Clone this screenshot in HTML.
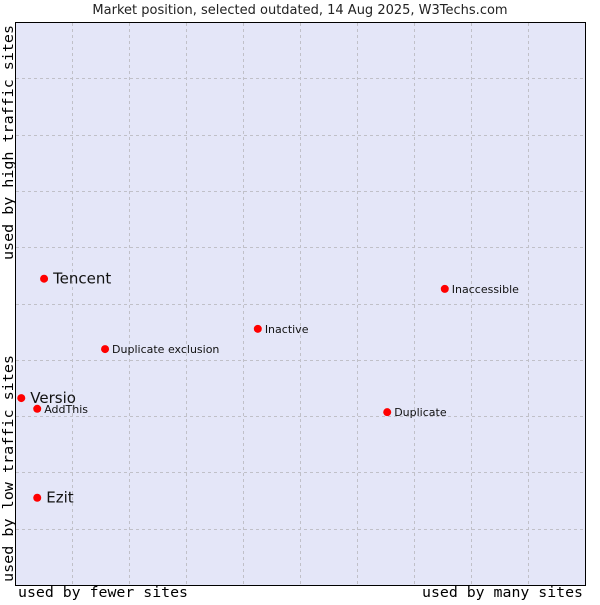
<!DOCTYPE html>
<html><head><meta charset="utf-8"><style>
body{margin:0;background:#fff;}
svg text{font-family:"DejaVu Sans","Liberation Sans",sans-serif;}
.mono{font-family:"DejaVu Sans Mono","Liberation Mono",monospace;}
</style></head><body>
<svg width="600" height="600" xmlns="http://www.w3.org/2000/svg">
<text x="300" y="14" text-anchor="middle" font-size="13" fill="#222">Market position, selected outdated, 14 Aug 2025, W3Techs.com</text>
<rect x="15.5" y="22.5" width="570" height="563" fill="#e4e6f8" stroke="#000" stroke-width="1"/>
<g id="grid"></g>
<text class="mono" x="18" y="597" font-size="14" textLength="170" lengthAdjust="spacingAndGlyphs" fill="#000">used by fewer sites</text>
<text class="mono" x="422" y="597" font-size="14" textLength="161" lengthAdjust="spacingAndGlyphs" fill="#000">used by many sites</text>
<text class="mono" transform="translate(13,582) rotate(-90)" font-size="14" textLength="227" lengthAdjust="spacingAndGlyphs" fill="#000">used by low traffic sites</text>
<text class="mono" transform="translate(13,260) rotate(-90)" font-size="14" textLength="235" lengthAdjust="spacingAndGlyphs" fill="#000">used by high traffic sites</text>
<g id="points"></g>
</svg>
<script>
const names=["Tencent","Inaccessible","Inactive","Duplicate exclusion","Versio","AddThis","Duplicate","Ezit"];
const xValues=[5.1,75.4,42.6,15.8,1.1,3.9,65.3,3.9];
const yValues=[54.4,52.6,45.5,41.9,33.2,31.3,30.7,15.5];
const bigLabel=[true,false,false,false,true,false,false,true];
const NS="http://www.w3.org/2000/svg";
const X0=15,X1=585,Y0=585,Y1=22;
function sx(v){return X0+(X1-X0)*v/100;}
function sy(v){return Y0-(Y0-Y1)*v/100;}
const grid=document.getElementById('grid');
for(let i=1;i<10;i++){
  const gx=Math.round(X0+(X1-X0)*i/10)+0.5;
  const l=document.createElementNS(NS,'line');
  
  
  l.setAttribute('x1',gx);l.setAttribute('x2',gx);l.setAttribute('y1',Y1+1);l.setAttribute('y2',Y0);
  l.setAttribute('stroke','#c0c0c8');l.setAttribute('stroke-dasharray','3,3');
  grid.appendChild(l);
  const gy=Math.round(Y0-(Y0-Y1)*i/10)+0.5;
  const h=document.createElementNS(NS,'line');
  
  
  h.setAttribute('x1',X0+1);h.setAttribute('x2',X1);h.setAttribute('y1',gy);h.setAttribute('y2',gy);
  h.setAttribute('stroke','#c0c0c8');h.setAttribute('stroke-dasharray','3,3');
  grid.appendChild(h);
}
const pts=document.getElementById('points');
names.forEach((n,i)=>{
  const cx=sx(xValues[i]),cy=sy(yValues[i]);
  const c=document.createElementNS(NS,'circle');
  
  
  c.setAttribute('cx',cx);c.setAttribute('cy',cy);c.setAttribute('r',4);c.setAttribute('fill','#f00');
  pts.appendChild(c);
  const t=document.createElementNS(NS,'text');
  
  
  t.setAttribute('x',cx+(bigLabel[i]?9:7));t.setAttribute('y',cy+(bigLabel[i]?5:4));
  t.setAttribute('font-size',bigLabel[i]?15:11);t.setAttribute('fill','#111');
  t.textContent=n;
  pts.appendChild(t);
});
</script>
</body></html>
